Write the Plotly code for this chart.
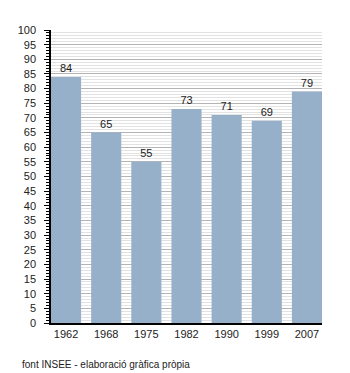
import plotly.graph_objects as go

years = ["1962", "1968", "1975", "1982", "1990", "1999", "2007"]
values = [84, 65, 55, 73, 71, 69, 79]
y_ticks = list(range(0, 101, 5))
source_note = "font INSEE - elaboració gràfica pròpia"

bar_color = "#97b0c9"
font_family = "Liberation Sans, Arial, sans-serif"

fig = go.Figure(
    go.Bar(
        x=years,
        y=values,
        width=0.75,
        marker=dict(color=bar_color, line=dict(width=0)),
        text=[str(v) for v in values],
        textposition="outside",
        cliponaxis=False,
        textfont=dict(size=11, color="#222222", family=font_family),
        hoverinfo="x+y",
    )
)

fig.update_layout(
    width=350,
    height=373,
    margin=dict(l=51, r=28, t=30, b=50),
    paper_bgcolor="white",
    plot_bgcolor="white",
    showlegend=False,
    font=dict(family=font_family, size=11, color="#222222"),
    bargap=0.25,
)

fig.update_xaxes(
    type="category",
    range=[-0.375, 6.375],
    showgrid=False,
    showline=True,
    linecolor="black",
    linewidth=1.5,
    ticks="",
    tickfont=dict(size=11, color="#222222"),
    fixedrange=True,
)

fig.update_yaxes(
    range=[0, 100],
    tickvals=y_ticks,
    ticktext=[str(t) for t in y_ticks],
    showline=True,
    linecolor="black",
    linewidth=1.5,
    ticks="outside",
    ticklen=5,
    tickwidth=1,
    tickcolor="black",
    ticklabelstandoff=6,
    showgrid=True,
    gridcolor="#b4b4b4",
    gridwidth=1,
    zeroline=False,
    tickfont=dict(size=11, color="#222222"),
    minor=dict(
        dtick=1,
        ticks="outside",
        ticklen=3,
        tickcolor="black",
        showgrid=True,
        gridcolor="#e2e2e2",
        gridwidth=1,
    ),
    fixedrange=True,
)

fig.add_annotation(
    text=source_note,
    xref="paper",
    yref="paper",
    x=-31 / 271,
    y=-34 / 293,
    xanchor="left",
    yanchor="top",
    showarrow=False,
    font=dict(size=10, color="#222222", family=font_family),
)

fig.write_html("out.html")
